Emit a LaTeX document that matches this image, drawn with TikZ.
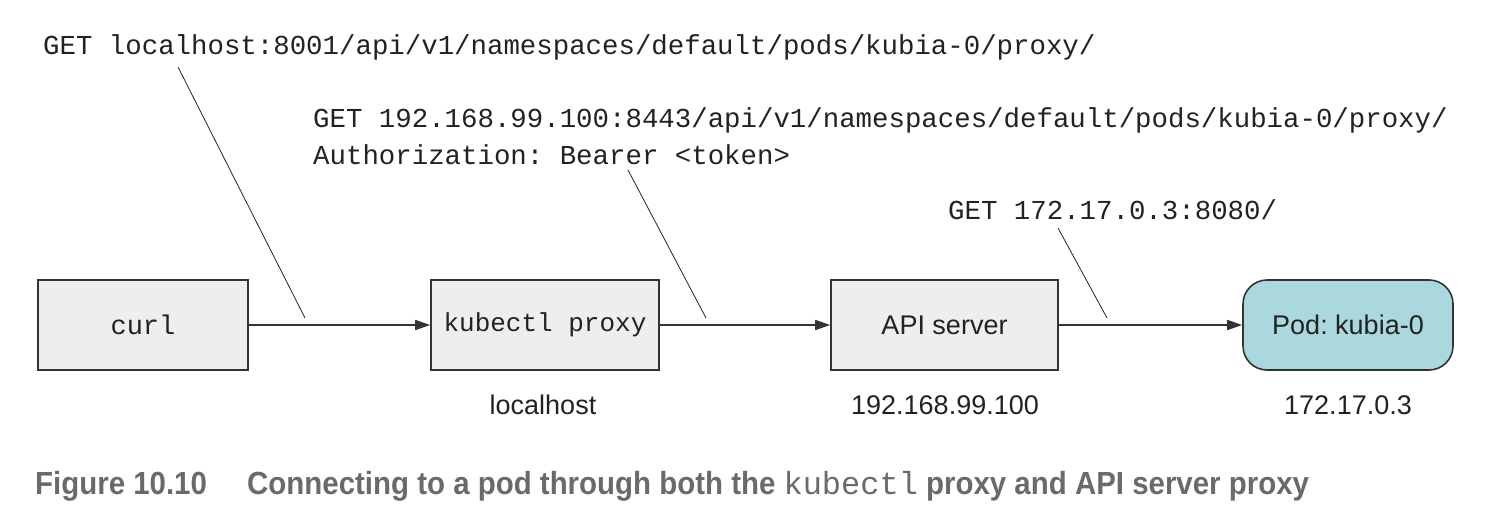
\documentclass[tikz,border=0pt]{standalone}
\usepackage{fontspec}
\setmainfont{Liberation Sans}
\setmonofont{Liberation Mono}
\newfontfamily\capfont[FakeStretch=0.92]{Liberation Sans}
\newfontfamily\capmono{Liberation Mono}
\usetikzlibrary{arrows.meta}
\frenchspacing
\definecolor{boxfill}{HTML}{EEEEEE}
\definecolor{boxline}{HTML}{333333}
\definecolor{podfill}{HTML}{AAD8DE}
\definecolor{inkcol}{HTML}{222222}
\definecolor{capgrey}{HTML}{6A6A6A}
\tikzset{
  stepbox/.style={draw=boxline, fill=boxfill, line width=1.6pt, minimum height=90pt, inner sep=0pt, text=inkcol},
  podbox/.style={stepbox, fill=podfill, rounded corners=24pt},
  monotext/.style={font=\fontsize{27.4}{37}\selectfont\ttfamily\frenchspacing, text=inkcol, inner sep=0pt, align=left},
  sanstext/.style={font=\fontsize{27}{32}\selectfont, text=inkcol, inner sep=0pt},
  flow/.style={draw=boxline, line width=1.6pt, -{Triangle[length=15pt,width=10pt]}},
  leader/.style={draw=inkcol, line width=0.8pt},
  captext/.style={anchor=west, inner sep=0pt, text=capgrey, font=\fontsize{32}{36}\selectfont\capfont\bfseries},
}
\begin{document}
\begin{tikzpicture}[x=1pt,y=-1pt]
\useasboundingbox (0,0) rectangle (1490,530);

% components
\node[stepbox, minimum width=210pt] (curl) at (143,325) {\fontsize{27}{32}\selectfont\ttfamily curl};
\node[stepbox, minimum width=228pt] (kproxy) at (545,325) {\fontsize{26}{32}\selectfont\ttfamily kubectl proxy};
\node[stepbox, minimum width=227pt] (api) at (944.5,325) {\fontsize{27}{32}\selectfont API server};
\node[podbox, minimum width=210pt] (pod) at (1348,325) {\fontsize{27}{32}\selectfont Pod: kubia-0};

% addresses
\node[sanstext] (addr1) at (543,405) {localhost};
\node[sanstext] (addr2) at (945,405) {192.168.99.100};
\node[sanstext] (addr3) at (1348,405) {172.17.0.3};

% requests
\node[monotext, anchor=west] (req1) at (43,47) {GET localhost:8001/api/v1/namespaces/default/pods/kubia-0/proxy/};
\node[monotext, anchor=west] (req2) at (313,136) {GET 192.168.99.100:8443/api/v1/namespaces/default/pods/kubia-0/proxy/\\Authorization: Bearer <token>};
\node[monotext, anchor=west] (req3) at (948,210) {GET 172.17.0.3:8080/};

% flow arrows
\draw[flow] (curl.east) -- (kproxy.west);
\draw[flow] (kproxy.east) -- (api.west);
\draw[flow] (api.east) -- (pod.west);

% leader lines
\coordinate (l1a) at (178,67);
\coordinate (l1b) at (305,318);
\coordinate (l2a) at (628,170);
\coordinate (l2b) at (706,318);
\coordinate (l3a) at (1058,228);
\coordinate (l3b) at (1107,318);
\draw[leader] (l1a) -- (l1b);
\draw[leader] (l2a) -- (l2b);
\draw[leader] (l3a) -- (l3b);

% caption
\node[captext] (fignum) at (35,486) {Figure 10.10};
\node[captext] (figtext) at (247,486) {Connecting to a pod through both the {\mdseries\capmono kubectl} proxy and API server proxy};
\end{tikzpicture}
\end{document}
